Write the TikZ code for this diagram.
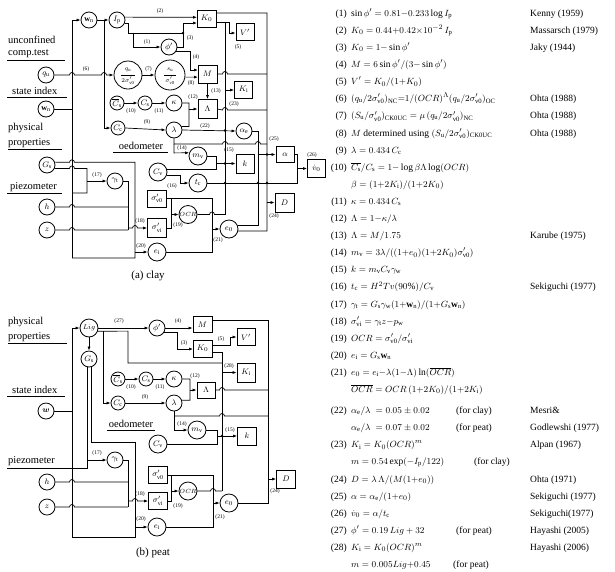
\documentclass[tikz,border=0pt]{standalone}
\usepackage{amsmath}
\usepackage{fontspec}
\setmainfont{Liberation Serif}
\usetikzlibrary{arrows.meta}
\newcommand\sgv[1]{\sigma'_{\mathrm{#1}}}
\newcommand\bmp[2]{-- ({#1-2.5},#2) arc[start angle=180,end angle=0,radius=2.5pt]}
\newcommand\jdot[2]{\fill (#1,#2) circle[radius=1.3pt];}
\begin{document}
\begin{tikzpicture}[x=1pt,y=-1pt,
 cn/.style={circle,draw,line width=0.8pt,minimum size=16pt,inner sep=0pt,font=\fontsize{8}{8}\selectfont},
 cs/.style={cn,minimum size=14pt},
 cl/.style={cn,minimum size=18pt},
 bx/.style={rectangle,draw,line width=0.8pt,minimum width=19pt,minimum height=17pt,inner sep=0pt,font=\fontsize{8}{8}\selectfont},
 ln/.style={line width=0.7pt},
 ar/.style={line width=0.7pt,-{Latex[length=4pt,width=3pt]}},
 lb/.style={font=\fontsize{5.5}{6}\selectfont,inner sep=0pt},
 sidelab/.style={font=\fontsize{10.5}{11}\selectfont,inner sep=0pt,anchor=west},
 eq/.style={font=\fontsize{9.5}{10}\selectfont,inner sep=0pt,anchor=base west},
 en/.style={font=\fontsize{9.5}{10}\selectfont,inner sep=0pt,anchor=base east},
 capt/.style={font=\fontsize{11}{12}\selectfont,inner sep=0pt},
 bigc/.style={circle,draw,line width=0.8pt,inner sep=0pt,font=\fontsize{6.5}{7}\selectfont}]
\useasboundingbox (0,0) rectangle (615,571);

% ===================== (a) clay =====================
\node[sidelab] (ta1) at (8,40) {unconfined};
\node[sidelab] (ta2) at (8,54) {comp.test};
\draw[ln] (7,60) -- (65,60);
\node[sidelab] (ta3) at (12,91) {state index};
\draw[ln] (7,97) -- (67,97);
\node[sidelab] (ta4) at (8,128) {physical};
\node[sidelab] (ta5) at (8,143) {properties};
\draw[ln] (8,149) -- (62,149);
\node[sidelab] (ta6) at (10,187) {piezometer};
\draw[ln] (7,193) -- (62,193);
\node[font=\fontsize{10.5}{11}\selectfont,inner sep=0pt] (ta7) at (141,146) {oedometer};
\draw[ln] (113,152) -- (168,152);

\node[cn] (wn) at (89,20) {$\mathbf{w}_{\mathrm n}$};
\node[cn] (Ip) at (117,20) {$I_{\mathrm p}$};
\node[cn] (qu) at (46,75) {$q_{\mathrm u}$};
\node[cn] (wns) at (46,109) {$\mathbf{w}_{\mathrm n}$};
\node[cn] (Gs) at (47,165) {$G_{\mathrm s}$};
\node[cn] (h) at (47,207) {$h$};
\node[cn] (z) at (47,230) {$z$};
\node[bigc,minimum size=28pt] (qf) at (128,75) {\begin{tabular}{@{}c@{}}$q_{\mathrm u}$\\[-2pt]\rule{14pt}{0.4pt}\\[-1pt]$2\sigma'_{\mathrm{v0}}$\end{tabular}};
\node[bigc,minimum size=30pt] (su) at (170,75) {\begin{tabular}{@{}c@{}}$s_{\mathrm u}$\\[-2pt]\rule{12pt}{0.4pt}\\[-1pt]$\sigma'_{\mathrm{v0}}$\end{tabular}};
\node[cn] (phi) at (169,47) {$\phi'$};
\node[bx] (K0) at (206.5,18.5) {$K_0$};
\node[bx,minimum width=18pt] (Vp) at (245,32) {$V'$};
\node[bx,minimum height=18pt] (M) at (207.5,74) {$M$};
\node[bx,minimum width=18pt] (Ki) at (243.5,89.5) {$K_{\mathrm i}$};
\node[bx,minimum height=19pt] (Lam) at (207.5,109) {$\Lambda$};
\node[cs] (Csb) at (117,103) {$\overline{C}_{\mathrm s}$};
\node[cs] (Cs) at (145,103) {$C_{\mathrm s}$};
\node[cn] (kap) at (174,103) {$\kappa$};
\node[cs] (Cc) at (118,128) {$C_{\mathrm c}$};
\node[cn] (lam) at (174,130) {$\lambda$};
\node[cn] (ac) at (244,131) {$\alpha_{\mathrm e}$};
\node[bx,minimum width=18pt,minimum height=16pt] (alpha) at (285,154.5) {$\alpha$};
\node[bx,minimum width=18pt,minimum height=18pt] (v0) at (316.5,168.5) {$\dot v_0$};
\node[cl] (mv) at (198,156) {$m_{\mathrm v}$};
\node[bx,minimum width=18pt,minimum height=19pt] (k) at (245,163.5) {$k$};
\node[cl] (Cv) at (158,172) {$C_{\mathrm v}$};
\node[cl] (tc) at (198,183) {$t_{\mathrm c}$};
\node[bx] (sv0) at (157,198.5) {$\sigma'_{\mathrm{v0}}$};
\node[cl,font=\fontsize{6.5}{7}\selectfont] (OCR) at (188,214.5) {$OCR$};
\node[bx,minimum height=19pt] (svi) at (157,228) {$\sigma'_{\mathrm{vi}}$};
\node[cl] (e0) at (229,229) {$e_0$};
\node[cl] (ei) at (157,252) {$e_{\mathrm i}$};
\node[bx,minimum height=19pt] (D) at (284.5,202.5) {$D$};
\node[cn] (gt) at (115,181) {$\gamma_{\mathrm t}$};

% connectors (a)
\draw[ar] (72,258) -- (72,20) -- (wn.west);
\draw[ln] (wns.east) -- (72,109);
\draw[ar] (wn) -- (Ip);
\draw[ar] (104,20) -- (104,128) -- (Cc.west);
\draw[ar] (qu.east) \bmp{72}{75} \bmp{104}{75} -- (qf.west);
\draw[ar] (Ip.20) -- (197,17.3);
\draw[ln] (Ip.-20) -| (128,33) -- (183,33);
\draw[ar] (133,33) -- (133,47) -- (phi.west);
\draw[ar] (phi.east) -| (183,23) -- (197,23);
\jdot{183}{33}
\draw[ar] (phi.-30) -| (190,70) -- (198,70);
\draw[ar] (qf) -- (su);
\draw[ar] (su.-8) -- (198,77.1);
\draw[ar] (M) -- (Lam);
\draw[ar] (Csb) -- (Cs);
\draw[ar] (Cs) -- (kap);
\draw[ln] (kap.east) -| (189,126.6) -- (lam.25);
\draw[ar] (189,109) -- (Lam.west);
\draw[ar] (Cc.east) -- (lam.west);
\draw[ar] (lam.east) -- (ac.west);
\jdot{225}{130.5}
\draw[ln] (lam.south) -- (174,144) \bmp{225}{144} \bmp{258}{144} -- (267,144);
\draw[ar] (174,144) -- (174,152.9) -- (mv.160);
\draw[ln] (216,13) -- (267,13) -- (267,231) -- (e0.-12);
\draw[ar] (267,202.5) -- (D.west);
\draw[ln] (216,22) -- (225,22) -- (225,214.5);
\draw[ar] (225,22) -- (229,22) -- (229,33) -- (Vp.west |- 0,33);
\draw[ar] (225,90) -- (Ki.west |- 0,90);
\draw[ln] (M.east) \bmp{225}{74} -- (267,74);
\draw[ln] (Lam.east) \bmp{225}{110} -- (267,110);
\draw[ln] (e0.22) -| (258,131) -- (ac.east);
\draw[ar] (258,154.5) -- (alpha.west);
\jdot{267}{154.5}
\draw[ar] (mv.east) -| (216,163.5) -- (k.west);
\jdot{225}{163.5}
\draw[ln] (Cv.15) -| (216,163.5);
\draw[ar] (Cv.-20) -| (180,183) -- (tc.west);
\draw[ln] (tc.east) -- (297,183) -- (297,168.5);
\jdot{225}{183}\jdot{258}{183}\jdot{267}{183}
\draw[ar] (alpha.east) -| (297,168.5) -- (v0.west);
\draw[ln] (sv0.east) -- (212,198.5) -- (212,252) -- (ei.east);
\draw[ln] (171,198.5) -- (171,228) -- (svi.east);
\draw[ar] (171,214.5) -- (OCR.west);
\draw[ln] (OCR.east) \bmp{212}{214.5} -- (225,214.5);
\draw[ar] (212,229) -- (e0.west);
\draw[ln] (Gs.20) \bmp{72}{162.3} -- (135,162.3) -- (135,258) -- (72,258);
\draw[ar] (135,252) -- (ei.west);
\draw[ln] (Gs.-25) \bmp{72}{168.4} -- (87,168.4) -- (87,193) -- (72,193);
\draw[ar] (87,181) -- (gt.west);
\draw[ln] (gt.east) -- (128,181) -- (128,230);
\draw[ln] (h.east) \bmp{72}{207} -- (128,207);
\draw[ln] (z.east) \bmp{72}{230} -- (128,230);
\draw[ar] (128,228) \bmp{135}{228} -- (svi.west);

% labels (a)
\node[lb] (la6) at (86,69) {(6)};
\node[lb] (la2) at (160,11) {(2)};
\node[lb] (la1) at (147,42) {(1)};
\node[lb] (la3) at (190,38) {(3)};
\node[lb] (la4) at (196,57) {(4)};
\node[lb] (la7) at (148.5,69) {(7)};
\node[lb] (la8) at (191,83) {(8)};
\node[lb] (la13) at (216,91) {(13)};
\node[lb] (la12) at (193,97) {(12)};
\node[lb] (la23) at (234,104) {(23)};
\node[lb] (la5) at (238,47) {(5)};
\node[lb] (la10) at (131,111) {(10)};
\node[lb] (la11) at (159,111) {(11)};
\node[lb] (la9) at (147,122) {(9)};
\node[lb] (la22) at (205,126) {(22)};
\node[lb] (la14) at (182,148) {(14)};
\node[lb] (la15) at (229,150) {(15)};
\node[lb] (la16) at (172,186) {(16)};
\node[lb] (la17) at (97,175) {(17)};
\node[lb] (la18) at (140,221) {(18)};
\node[lb] (la19) at (178,225) {(19)};
\node[lb] (la20) at (141,246) {(20)};
\node[lb] (la21) at (218,240) {(21)};
\node[lb] (la24) at (274,216) {(24)};
\node[lb] (la25) at (274,139) {(25)};
\node[lb] (la26) at (312,155) {(26)};
\node[capt] (capa) at (148,276) {(a) clay};

% ===================== (b) peat =====================
\node[sidelab] (tb1) at (8,322) {physical};
\node[sidelab] (tb2) at (8,337) {properties};
\draw[ln] (8,343) -- (67,343);
\node[sidelab] (tb3) at (12,390) {state index};
\draw[ln] (7,396) -- (65,396);
\node[sidelab] (tb4) at (8,461) {piezometer};
\draw[ln] (7,468) -- (72,468);
\node[font=\fontsize{10.5}{11}\selectfont,inner sep=0pt] (tb5) at (131,424) {oedometer};
\draw[ln] (107,430) -- (155,430);

\node[cl,font=\fontsize{7.5}{8}\selectfont] (Lig) at (89,328) {$Lig$};
\node[cn] (Gsb) at (89,359) {$G_{\mathrm s}$};
\node[cn] (phib) at (157,328) {$\phi'$};
\node[bx,minimum height=16pt] (Mb) at (202.5,324.5) {$M$};
\node[bx] (K0b) at (202.5,348.5) {$K_0$};
\node[bx,minimum width=18pt] (Vpb) at (246,337) {$V'$};
\node[bx,minimum width=18pt,minimum height=19pt] (Kib) at (246,372.5) {$K_{\mathrm i}$};
\node[cs] (Csbb) at (118,379) {$\overline{C}_{\mathrm s}$};
\node[cs] (Csb2) at (146,379) {$C_{\mathrm s}$};
\node[cn] (kapb) at (174,379) {$\kappa$};
\node[bx,minimum width=18pt,minimum height=16pt] (Lamb) at (206,390) {$\Lambda$};
\node[cs] (Ccb) at (118,403) {$C_{\mathrm c}$};
\node[cn] (lamb) at (174,403) {$\lambda$};
\node[cl] (mvb) at (197,430) {$m_{\mathrm v}$};
\node[bx,minimum height=18pt] (kb) at (247,436) {$k$};
\node[cl] (Cvb) at (158,444) {$C_{\mathrm v}$};
\node[bx] (sv0b) at (158,475) {$\sigma'_{\mathrm{v0}}$};
\node[cl,font=\fontsize{6.5}{7}\selectfont] (OCRb) at (188,491) {$OCR$};
\node[bx] (svib) at (158,501) {$\sigma'_{\mathrm{vi}}$};
\node[cl] (e0b) at (229,503) {$e_0$};
\node[cl] (eib) at (157,527) {$e_{\mathrm i}$};
\node[bx,minimum height=18pt] (Db) at (286,479) {$D$};
\node[cn] (gtb) at (115,460) {$\gamma_{\mathrm t}$};
\node[cn] (wb) at (46,411) {$\boldsymbol{w}$};
\node[cn] (hb) at (47,482) {$h$};
\node[cn] (zb) at (47,507) {$z$};

% connectors (b)
\draw[ar] (72,537) -- (72,328) -- (Lig.west);
\draw[ln] (wb.east) -- (72,411);
\draw[ar] (Lig.east) -- (phib.west);
\draw[ar] (Lig.south) -- (Gsb.north);
\draw[ln] (Lig.-20) -- (128,331.1) -- (128,363) -- (222,363);
\draw[ar] (103,331.1) -- (103,403) -- (Ccb.west);
\draw[ln] (87,366.8) -- (87,468) -- (72,468);
\draw[ln] (91,366.8) -- (91,442) -- (135,442) -- (135,537) -- (72,537);
\draw[ar] (135,527) -- (eib.west);
\draw[ar] (87,460) -- (gtb.west);
\draw[ln] (gtb.east) -- (128,460) -- (128,507);
\draw[ln] (hb.east) \bmp{72}{482} -- (128,482);
\draw[ln] (zb.east) \bmp{72}{507} -- (128,507);
\draw[ar] (128,501) \bmp{135}{501} -- (svib.west);
\draw[ar] (phib.east) -- (Mb.west |- phib.east);
\draw[ar] (phib.-35) -| (177,349) -- (193,349);
\draw[ar] (212,345) -- (230,345) -- (230,337) -- (Vpb.west);
\draw[ln] (212,352) -- (222,352) -- (222,491);
\draw[ar] (222,372.5) -- (Kib.west);
\draw[ln] (212,320) -- (268,320) -- (268,503) -- (e0b.east);
\draw[ar] (268,479) -- (Db.west);
\draw[ar] (Csbb) -- (Csb2);
\draw[ar] (Csb2) -- (kapb);
\draw[ln] (kapb.east) -| (190,400.3) -- (lamb.20);
\draw[ar] (190,390) -- (Lamb.west);
\draw[ar] (Ccb) -- (lamb);
\draw[ln] (Lamb.east) \bmp{222}{390} -- (268,390);
\draw[ln] (174,416) \bmp{222}{416} -- (268,416);
\draw[ar] (lamb.south) -- (174,430) -- (mvb.west);
\draw[ln] (mvb.east) -- (217,430) -- (217,444) -- (Cvb.east);
\draw[ar] (217,436) -- (kb.west);
\jdot{222}{436}
\draw[ln] (sv0b.east) -- (213,475) -- (213,527) -- (eib.east);
\draw[ln] (171,475) -- (171,501) -- (svib.east);
\draw[ar] (171,491) -- (OCRb.west);
\draw[ln] (OCRb.east) \bmp{213}{491} -- (222,491);
\draw[ar] (213,503) -- (e0b.west);

% labels (b)
\node[lb] (lb27) at (119,321) {(27)};
\node[lb] (lb4) at (178,321) {(4)};
\node[lb] (lb3) at (184,343) {(3)};
\node[lb] (lb5) at (221,339) {(5)};
\node[lb] (lb28) at (229,366) {(28)};
\node[lb] (lb10) at (131,387) {(10)};
\node[lb] (lb11) at (160,387) {(11)};
\node[lb] (lb12) at (195,376) {(12)};
\node[lb] (lb9) at (145,397) {(9)};
\node[lb] (lb14) at (182,424) {(14)};
\node[lb] (lb15) at (230,430) {(15)};
\node[lb] (lb17) at (97,453) {(17)};
\node[lb] (lb18) at (140,494) {(18)};
\node[lb] (lb19) at (178,506) {(19)};
\node[lb] (lb20) at (141,519) {(20)};
\node[lb] (lb21) at (220,517) {(21)};
\node[lb] (lb24) at (275,491) {(24)};
\node[capt] (capb) at (153,553) {(b) peat};

% ===================== equations =====================
\node[en] (n1) at (347,16.3) {(1)};  \node[eq] (q1) at (351,16.3) {$\sin\phi'=0.81{-}0.233\log I_{\mathrm p}$}; \node[eq] (r1) at (530,16.3) {Kenny (1959)};
\node[en] (n2) at (347,33.4) {(2)};  \node[eq] (q2) at (351,33.4) {$K_0=0.44{+}0.42{\times}10^{-2}\,I_{\mathrm p}$}; \node[eq] (r2) at (530,33.4) {Massarsch (1979)};
\node[en] (n3) at (347,50.5) {(3)};  \node[eq] (q3) at (351,50.5) {$K_0=1{-}\sin\phi'$}; \node[eq] (r3) at (530,50.5) {Jaky (1944)};
\node[en] (n4) at (347,67.6) {(4)};  \node[eq] (q4) at (351,67.6) {$M=6\sin\phi'/(3{-}\sin\phi')$};
\node[en] (n5) at (347,84.7) {(5)};  \node[eq] (q5) at (351,84.7) {$V'=K_0/(1{+}K_0)$};
\node[en] (n6) at (347,101.8) {(6)}; \node[eq] (q6) at (351,101.8) {$(q_{\mathrm u}/2\sgv{v0})_{\mathrm{NC}}{=}1/(OCR)^{\Lambda}(q_{\mathrm u}/2\sgv{v0})_{\mathrm{OC}}$}; \node[eq] (r6) at (530,101.8) {Ohta (1988)};
\node[en] (n7) at (347,118.9) {(7)}; \node[eq] (q7) at (351,118.9) {$(S_{\mathrm u}/\sgv{v0})_{\mathrm{CK0UC}}=\mu\,(q_{\mathrm u}/2\sgv{v0})_{\mathrm{NC}}$}; \node[eq] (r7) at (530,118.9) {Ohta (1988)};
\node[en] (n8) at (347,136) {(8)}; \node[eq] (q8) at (351,136) {$M$ determined using $(S_{\mathrm u}/2\sgv{v0})_{\mathrm{CK0UC}}$}; \node[eq] (r8) at (530,136) {Ohta (1988)};
\node[en] (n9) at (347,153.1) {(9)}; \node[eq] (q9) at (351,153.1) {$\lambda=0.434\,C_{\mathrm c}$};
\node[en] (n10) at (347,170.2) {(10)}; \node[eq] (q10) at (351,170.2) {$\overline{C_{\mathrm s}}/C_{\mathrm s}=1{-}\log\beta\Lambda\log(OCR)$};
\node[eq] (q10b) at (351,187.3) {$\beta=(1{+}2K_{\mathrm i})/(1{+}2K_0)$};
\node[en] (n11) at (347,204.4) {(11)}; \node[eq] (q11) at (351,204.4) {$\kappa=0.434\,C_{\mathrm s}$};
\node[en] (n12) at (347,221.5) {(12)}; \node[eq] (q12) at (351,221.5) {$\Lambda=1{-}\kappa/\lambda$};
\node[en] (n13) at (347,238.6) {(13)}; \node[eq] (q13) at (351,238.6) {$\Lambda=M/1.75$}; \node[eq] (r13) at (530,238.6) {Karube (1975)};
\node[en] (n14) at (347,255.7) {(14)}; \node[eq] (q14) at (351,255.7) {$m_{\mathrm v}=3\lambda/((1{+}e_0)(1{+}2K_0)\sgv{v0})$};
\node[en] (n15) at (347,272.8) {(15)}; \node[eq] (q15) at (351,272.8) {$k=m_{\mathrm v}C_{\mathrm v}\gamma_{\mathrm w}$};
\node[en] (n16) at (347,289.9) {(16)}; \node[eq] (q16) at (351,289.9) {$t_{\mathrm c}=H^2Tv(90\%)/C_{\mathrm v}$}; \node[eq] (r16) at (530,289.9) {Sekiguchi (1977)};
\node[en] (n17) at (347,307) {(17)}; \node[eq] (q17) at (351,307) {$\gamma_{\mathrm t}=G_{\mathrm s}\gamma_{\mathrm w}(1{+}\mathbf{w}_{\mathrm n})/(1{+}G_{\mathrm s}\mathbf{w}_{\mathrm n})$};
\node[en] (n18) at (347,324.1) {(18)}; \node[eq] (q18) at (351,324.1) {$\sgv{vi}=\gamma_{\mathrm t}z{-}p_{\mathrm w}$};
\node[en] (n19) at (347,341.2) {(19)}; \node[eq] (q19) at (351,341.2) {$OCR=\sgv{v0}/\sgv{vi}$};
\node[en] (n20) at (347,358.3) {(20)}; \node[eq] (q20) at (351,358.3) {$e_{\mathrm i}=G_{\mathrm s}\mathbf{w}_{\mathrm n}$};
\node[en] (n21) at (347,375.4) {(21)}; \node[eq] (q21) at (351,375.4) {$e_0=e_{\mathrm i}{-}\lambda(1{-}\Lambda)\ln(\overline{OCR})$};
\node[eq] (q21b) at (351,392.5) {$\overline{OCR}=OCR\,(1{+}2K_0)/(1{+}2K_{\mathrm i})$};
\node[en] (n22) at (347,413.6) {(22)}; \node[eq] (q22) at (351,413.6) {$\alpha_{\mathrm e}/\lambda\;=0.05\pm0.02$}; \node[eq] (f22) at (456,413.6) {(for clay)}; \node[eq] (r22) at (530,413.6) {Mesri\&};
\node[eq] (q22b) at (351,430.7) {$\alpha_{\mathrm e}/\lambda\;=0.07\pm0.02$}; \node[eq] (f22b) at (456,430.7) {(for peat)}; \node[eq] (r22b) at (530,430.7) {Godlewshi (1977)};
\node[en] (n23) at (347,447.8) {(23)}; \node[eq] (q23) at (351,447.8) {$K_{\mathrm i}=K_0(OCR)^m$}; \node[eq] (r23) at (530,447.8) {Alpan (1967)};
\node[eq] (q23b) at (351,464.9) {$m=0.54\exp({-}I_{\mathrm p}/122)$}; \node[eq] (f23b) at (474,464.9) {(for clay)};
\node[en] (n24) at (347,482) {(24)}; \node[eq] (q24) at (351,482) {$D=\lambda\,\Lambda/(M(1{+}e_0))$}; \node[eq] (r24) at (530,482) {Ohta (1971)};
\node[en] (n25) at (347,499.1) {(25)}; \node[eq] (q25) at (351,499.1) {$\alpha=\alpha_{\mathrm e}/(1{+}e_0)$}; \node[eq] (r25) at (530,499.1) {Sekiguchi (1977)};
\node[en] (n26) at (347,516.2) {(26)}; \node[eq] (q26) at (351,516.2) {$\dot v_0=\alpha/t_{\mathrm c}$}; \node[eq] (r26) at (530,516.2) {Sekiguchi(1977)};
\node[en] (n27) at (347,533.3) {(27)}; \node[eq] (q27) at (351,533.3) {$\phi'=0.19\,Lig+32$}; \node[eq] (f27) at (456,533.3) {(for peat)}; \node[eq] (r27) at (530,533.3) {Hayashi (2005)};
\node[en] (n28) at (347,550.4) {(28)}; \node[eq] (q28) at (351,550.4) {$K_{\mathrm i}=K_0(OCR)^m$}; \node[eq] (r28) at (530,550.4) {Hayashi (2006)};
\node[eq] (q28b) at (351,567.5) {$m=0.005Lig{+}0.45$}; \node[eq] (f28b) at (453,567.5) {(for peat)};
\end{tikzpicture}
\end{document}
